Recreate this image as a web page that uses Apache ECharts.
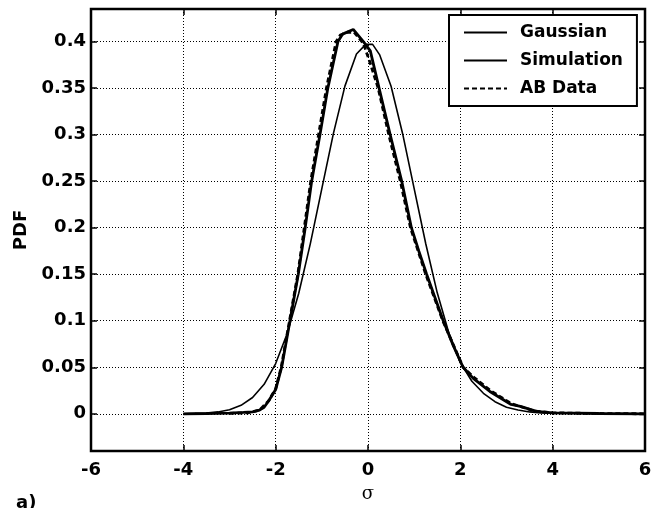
<!DOCTYPE html>
<html>
<head>
<meta charset="utf-8">
<script src="https://cdn.jsdelivr.net/npm/echarts@6/dist/echarts.min.js"></script>
<style>
  html, body { margin: 0; padding: 0; background: #fff; }
  #chart { width: 661px; height: 508px; }
</style>
</head>
<body>
<div id="chart"></div>
<script>
// values
const xTicks = [-6, -4, -2, 0, 2, 4, 6];
const yTicks = [0, 0.05, 0.1, 0.15, 0.2, 0.25, 0.3, 0.35, 0.4];

const sigmaGauss = [-4, -3.75, -3.5, -3.25, -3, -2.75, -2.5, -2.25, -2, -1.75, -1.5, -1.25, -1, -0.75, -0.5, -0.25, -0.05, 0.1, 0.25, 0.5, 0.75, 1, 1.25, 1.5, 1.75, 2, 2.25, 2.5, 2.75, 3, 3.25, 3.5, 3.75, 4];
const pdfGauss = [0, 0.0004, 0.0009, 0.002, 0.0044, 0.0091, 0.0175, 0.0317, 0.054, 0.0863, 0.1295, 0.1826, 0.242, 0.3011, 0.3521, 0.3867, 0.397, 0.397, 0.386, 0.352, 0.301, 0.242, 0.183, 0.13, 0.087, 0.055, 0.035, 0.022, 0.013, 0.007, 0.004, 0.002, 0.001, 0.0005];

const sigmaSim = [-4, -3.5, -3, -2.7, -2.5, -2.35, -2.25, -2.15, -2, -1.87, -1.69, -1.51, -1.36, -1.22, -1.04, -0.87, -0.65, -0.55, -0.32, -0.1, 0.05, 0.24, 0.48, 0.73, 0.94, 1.1, 1.27, 1.45, 1.63, 1.85, 2.06, 2.28, 2.64, 3.1, 3.3, 3.65, 4, 5, 6];
const pdfSim = [0, 0.0003, 0.0008, 0.0015, 0.002, 0.004, 0.007, 0.014, 0.026, 0.05, 0.1, 0.15, 0.2, 0.25, 0.3, 0.35, 0.4, 0.408, 0.413, 0.4, 0.39, 0.35, 0.3, 0.25, 0.2, 0.175, 0.15, 0.125, 0.1, 0.073, 0.05, 0.038, 0.024, 0.01, 0.008, 0.0025, 0.001, 0.0003, 0];

const sigmaAB = [-3, -2.6, -2.35, -2.15, -2, -1.88, -1.7, -1.52, -1.38, -1.24, -1.07, -0.9, -0.69, -0.6, -0.45, -0.3, -0.1, 0.04, 0.22, 0.45, 0.7, 0.92, 1.25, 1.62, 2.06, 2.3, 2.65, 3.1, 3.6, 4, 5, 6];
const pdfAB = [0.0005, 0.001, 0.004, 0.014, 0.027, 0.05, 0.1, 0.15, 0.2, 0.25, 0.3, 0.35, 0.4, 0.407, 0.41, 0.41, 0.398, 0.378, 0.35, 0.3, 0.25, 0.2, 0.15, 0.1, 0.05, 0.039, 0.025, 0.011, 0.003, 0.001, 0.0003, 0];

function pairs(xs, ys) {
  return xs.map((x, i) => [x, ys[i]]);
}

const font = "DejaVu Sans";
const chart = echarts.init(document.getElementById("chart"));

const gridLine = { show: true, lineStyle: { color: "#000", width: 1, type: [1, 2] } };
const tickIn = { show: true, inside: true, length: 6, lineStyle: { color: "#000", width: 1.5 } };
const noLine = { show: false, onZero: false };

const option = {
  backgroundColor: "#fff",
  animation: false,
  grid: {
    left: 91, right: 16, top: 9, bottom: 55,
    show: true, borderColor: "#000", borderWidth: 2.5,
  },
  legend: {
    orient: "vertical",
    left: 449, top: 15,
    padding: [9, 14, 9, 14],
    itemWidth: 43, itemHeight: 14, itemGap: 11,
    backgroundColor: "#fff",
    borderColor: "#000", borderWidth: 2,
    itemStyle: { opacity: 0 },
    textStyle: { fontFamily: font, fontWeight: "bold", fontSize: 17, color: "#000", padding: [0, 0, 0, 8] },
    data: ["Gaussian", "Simulation", "AB Data"],
  },
  graphic: [
    { type: "text", left: 16, top: 494, style: { text: "a)", font: "bold 18px 'DejaVu Sans'", fill: "#000" } },
  ],
  xAxis: [
    {
      type: "value", min: -6, max: 6, interval: 2,
      name: "σ", nameLocation: "middle", nameGap: 34,
      nameTextStyle: { fontFamily: "DejaVu Serif", fontSize: 18, color: "#000" },
      axisLine: noLine,
      axisTick: tickIn,
      axisLabel: { fontFamily: font, fontWeight: "bold", fontSize: 18, color: "#000", margin: 10 },
      splitLine: gridLine,
    },
    {
      type: "value", min: -6, max: 6, interval: 2, position: "top",
      axisLine: noLine, axisTick: tickIn,
      axisLabel: { show: false }, splitLine: { show: false },
    },
  ],
  yAxis: [
    {
      type: "value", min: -0.04, max: 0.435,
      name: "PDF", nameLocation: "middle", nameGap: 58,
      nameTextStyle: { fontFamily: font, fontWeight: "bold", fontSize: 18, color: "#000" },
      axisLine: noLine,
      axisTick: Object.assign({ customValues: yTicks }, tickIn),
      axisLabel: {
        customValues: yTicks,
        fontFamily: font, fontWeight: "bold", fontSize: 18, color: "#000", margin: 5,
        formatter: (v) => String(+v.toFixed(2)),
      },
      splitLine: gridLine,
    },
    {
      type: "value", min: -0.04, max: 0.435, position: "right",
      axisLine: noLine,
      axisTick: Object.assign({ customValues: yTicks }, tickIn),
      axisLabel: { show: false }, splitLine: { show: false },
    },
  ],
  series: [
    {
      name: "Gaussian", type: "line", symbol: "none",
      lineStyle: { color: "#000", width: 1.6 },
      itemStyle: { color: "#000" },
      data: pairs(sigmaGauss, pdfGauss), z: 3,
    },
    {
      name: "Simulation", type: "line", symbol: "none",
      lineStyle: { color: "#000", width: 2.8 },
      itemStyle: { color: "#000" },
      data: pairs(sigmaSim, pdfSim), z: 4,
    },
    {
      name: "AB Data", type: "line", symbol: "none",
      lineStyle: { color: "#000", width: 2.8, type: [5, 3] },
      itemStyle: { color: "#000" },
      data: pairs(sigmaAB, pdfAB), z: 5,
    },
  ],
};

chart.setOption(option);
</script>
</body>
</html>
